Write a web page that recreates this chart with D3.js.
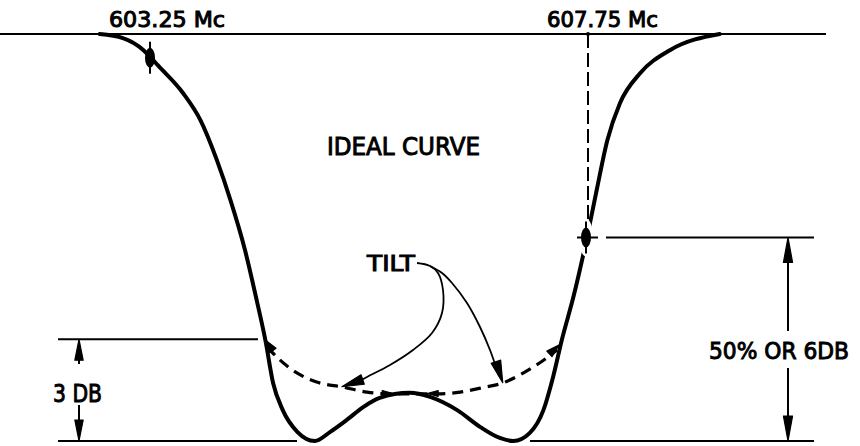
<!DOCTYPE html>
<html>
<head>
<meta charset="utf-8">
<script src="https://cdn.jsdelivr.net/npm/d3@7"></script>
<style>
  html, body { margin: 0; padding: 0; background: #fff; }
  svg { display: block; }
  text { font-family: "DejaVu Sans", "Liberation Sans", sans-serif; fill: #000; stroke: #000; stroke-width: 1px; }
</style>
</head>
<body>
<svg id="chart" width="860" height="446"></svg>
<script>
// Picture-carrier response of the trap: frequency (Mc) vs. attenuation below peak (dB)
const idealFreq = [602.72, 602.96, 603.17, 603.25, 603.32, 603.58, 603.76, 603.93, 604.07, 604.22, 604.34, 604.43,
                   604.51, 604.61, 604.76, 604.94, 605.10, 605.27, 605.44, 605.61, 605.92, 606.13, 606.41, 606.65,
                   606.85, 606.99, 607.16, 607.30, 607.40, 607.49, 607.61, 607.75, 607.85, 607.96, 608.09, 608.30,
                   608.61, 609.12];
const idealDb   = [12.0, 11.88, 11.53, 11.30, 11.08, 10.26, 9.46, 8.28, 7.10, 5.63, 4.16, 2.98,
                   1.71, 0.91, 0.27, 0.0, 0.27, 0.62, 1.00, 1.27, 1.42, 1.30, 0.91, 0.41,
                   0.09, 0.0, 0.24, 0.91, 1.89, 2.98, 4.25, 6.0, 7.40, 8.87, 9.96, 10.85,
                   11.53, 12.0];

// Tilted bottom (dashed)
const tiltFreq = [604.45, 604.58, 604.76, 604.96, 605.23, 605.48, 605.72, 605.95, 606.20, 606.44, 606.65, 606.88,
                  607.09, 607.26, 607.44];
const tiltDb   = [2.77, 2.39, 2.00, 1.74, 1.59, 1.44, 1.39, 1.39, 1.39, 1.44, 1.56, 1.71,
                  2.00, 2.30, 2.68];

// Marked carrier frequencies and their labels
const markerFreqs  = [603.25, 607.75];
const markerLabels = ["603.25 Mc", "607.75 Mc"];

// Reference levels (dB below peak)
const topDb = 12, bottomDb = 0, threeDb = 3, halfDb = 6;
const levelLabels = ["3 DB", "50% OR 6DB"];
const titleText = "IDEAL CURVE";
const tiltText = "TILT";

const svg = d3.select("#chart");
const x = d3.scaleLinear().domain([603.25, 607.75]).range([151, 587]);
const y = d3.scaleLinear().domain([bottomDb, topDb]).range([441, 34]);

const ideal = idealFreq.map((f, i) => [f, idealDb[i]]);
const tilt = tiltFreq.map((f, i) => [f, tiltDb[i]]);

// Arrowhead: slender filled triangle with its point at tip, aimed from "from"
function arrowHead(g, tip, from, len = 20, halfW = 3.6) {
  const dx = tip[0] - from[0], dy = tip[1] - from[1];
  const d = Math.hypot(dx, dy) || 1;
  const ux = dx / d, uy = dy / d, nx = -uy, ny = ux;
  const bx = tip[0] - ux * len, by = tip[1] - uy * len;
  const pts = [tip, [bx + nx * halfW, by + ny * halfW], [bx - nx * halfW, by - ny * halfW]];
  g.append("polygon").attr("points", pts.map(p => p.join(",")).join(" "))
    .style("fill", "#000").style("stroke", "#000")
    .style("stroke-width", "1.2px").style("stroke-linejoin", "round");
}

function hline(yv, x0, x1, w = 2) {
  svg.append("line").attr("x1", x0).attr("x2", x1).attr("y1", yv).attr("y2", yv)
    .attr("stroke", "#000").attr("stroke-width", w);
}
function vline(xv, y0, y1, w = 1.8, dash = null) {
  const l = svg.append("line").attr("x1", xv).attr("x2", xv).attr("y1", y0).attr("y2", y1)
    .attr("stroke", "#000").attr("stroke-width", w);
  if (dash) l.attr("stroke-dasharray", dash);
  return l;
}

// Reference lines
hline(y(topDb), 0, 826);
hline(y(bottomDb), 58, 297);
hline(y(bottomDb), 530, 814);
hline(y(threeDb), 58, 258);
hline(y(halfDb), 606, 814);

// Ideal response curve
const line = d3.line().x(d => x(d[0])).y(d => y(d[1])).curve(d3.curveMonotoneX);
svg.append("path").datum(ideal).attr("d", line)
  .attr("fill", "none").attr("stroke", "#000").attr("stroke-width", 4).attr("stroke-linecap", "round");

// Tilted bottom
svg.append("path").datum(tilt).attr("d", line)
  .attr("fill", "none").attr("stroke", "#000").attr("stroke-width", 3.2)
  .attr("stroke-dasharray", "11,7");
const tg = svg.append("g");
arrowHead(tg, [x(tilt[0][0]) - 2, y(tilt[0][1]) - 7], [x(tilt[1][0]), y(tilt[1][1])], 13, 3.8);
const tn = tilt.length - 1;
arrowHead(tg, [x(tilt[tn][0]) + 2, y(tilt[tn][1]) - 5], [x(tilt[tn - 1][0]), y(tilt[tn - 1][1])], 13, 3.8);
// small arrowheads where the tilt meets the hump
arrowHead(tg, [x(605.75), y(1.4)], [x(605.60), y(1.4)], 11, 3);
arrowHead(tg, [x(606.10), y(1.4)], [x(606.25), y(1.4)], 11, 3);

// Carrier markers
const mk = svg.append("g");
markerFreqs.forEach((f, i) => {
  const cx = x(f);
  const cy = y(i === 0 ? 11.3 : halfDb);
  if (i === 1) {
    mk.append("ellipse").attr("cx", cx - 1).attr("cy", cy).attr("rx", 7).attr("ry", 19).attr("fill", "#fff");
    vline(cx + 1, y(topDb), cy - 17, 2, "14,5");
    mk.append("line").attr("x1", cx - 10).attr("x2", cx + 11).attr("y1", cy).attr("y2", cy)
      .attr("stroke", "#000").attr("stroke-width", 2);
    mk.append("circle").attr("cx", cx + 1).attr("cy", y(topDb)).attr("r", 2).attr("fill", "#000");
  }
  mk.append("line").attr("x1", cx - 1).attr("x2", cx - 1).attr("y1", cy - 16).attr("y2", cy + 16)
    .attr("stroke", "#000").attr("stroke-width", 2);
  mk.append("ellipse").attr("cx", cx - 1).attr("cy", cy).attr("rx", 5).attr("ry", 10).attr("fill", "#000");
});

// Dimension arrows
const dg = svg.append("g");
vline(79, y(threeDb) + 4, 364, 2);
vline(79, 405, y(bottomDb) - 4, 2);
arrowHead(dg, [79, y(threeDb)], [79, y(threeDb) + 30], 21, 4.2);
arrowHead(dg, [79, y(bottomDb)], [79, y(bottomDb) - 30], 21, 4.2);

vline(788, y(halfDb) + 4, 331, 2);
vline(788, 368, y(bottomDb) - 4, 2);
arrowHead(dg, [788, y(halfDb)], [788, y(halfDb) + 30], 25, 4.6);
arrowHead(dg, [788, y(bottomDb)], [788, y(bottomDb) - 30], 25, 4.6);

// TILT leaders
const lg = svg.append("g");
const leader = d3.line().curve(d3.curveCatmullRom.alpha(0.5));
const leftLeader  = [[417, 263], [430, 266], [438, 273], [443, 290], [442, 313], [432, 333], [413, 350], [390, 365], [367, 377], [356, 383]];
const rightLeader = [[430, 266], [442, 273], [452, 283], [467, 303], [480, 327], [490, 350], [496, 367], [499, 376]];
[leftLeader, rightLeader].forEach(pts => {
  lg.append("path").attr("d", leader(pts)).attr("fill", "none").attr("stroke", "#000").attr("stroke-width", 1.8);
});
arrowHead(lg, [x(605.22), y(1.6)], [370, 377], 22, 5);
arrowHead(lg, [x(606.88), y(1.72)], [496, 362], 22, 5);

// Text
const labels = [
  { t: markerLabels[0], x: 109, y: 27, s: 21, w: 116 },
  { t: markerLabels[1], x: 547, y: 27, s: 21, w: 111 },
  { t: titleText,       x: 327, y: 155, s: 24, w: 153 },
  { t: tiltText,        x: 367, y: 271, s: 21, w: 48 },
  { t: levelLabels[0],  x: 53,  y: 402, s: 24, w: 49 },
  { t: levelLabels[1],  x: 709, y: 359, s: 23, w: 140 }
];
svg.append("g").selectAll("text").data(labels).join("text")
  .attr("x", d => d.x).attr("y", d => d.y)
  .attr("font-size", d => d.s)
  .attr("textLength", d => d.w).attr("lengthAdjust", "spacingAndGlyphs")
  .text(d => d.t);
</script>
</body>
</html>
